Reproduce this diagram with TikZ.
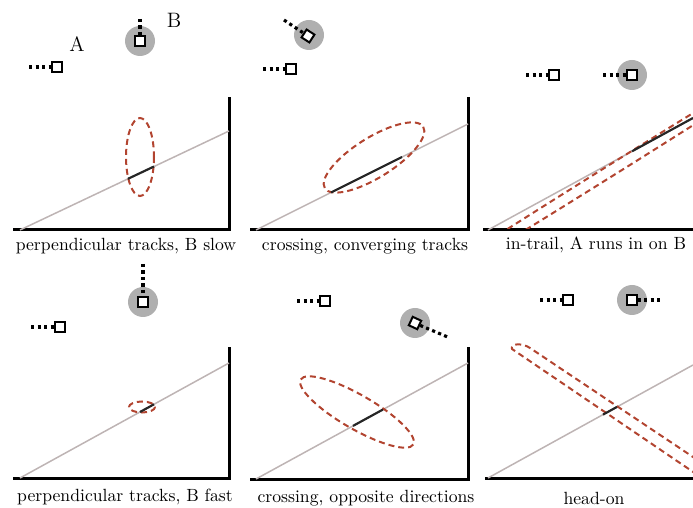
\documentclass[tikz,border=0pt]{standalone}
\usepackage{tikz}
\usetikzlibrary{positioning,calc}
\definecolor{trackgray}{RGB}{190,180,180}
\definecolor{zonered}{RGB}{178,68,48}
\definecolor{halogray}{RGB}{175,175,175}

\begin{document}
\begin{tikzpicture}[
  x=0.6pt, y=-0.6pt,
  axis/.style={draw, line width=1.8pt},
  track/.style={draw=trackgray, line width=0.9pt},
  conflict/.style={draw=black!85, line width=1.3pt},
  zone/.style={draw=zonered, line width=1.2pt, dash pattern=on 3.6pt off 2.4pt},
  plane/.style={draw, rectangle, line width=1.2pt, minimum size=5.6pt, inner sep=0pt, fill=white},
  halo/.style={circle, fill=halogray, minimum size=18pt, inner sep=0pt},
  trail/.style={draw, line width=1.9pt, dash pattern=on 1.9pt off 2pt},
  captext/.style={font=\fontsize{10.6}{12}\selectfont, inner sep=0pt},
  tag/.style={font=\fontsize{12.5}{14}\selectfont, inner sep=0pt},
]
\useasboundingbox (0,0) rectangle (693,508);

% perpendicular tracks, B slow
\node[halo] (h1) at (140,41) {};
\node[plane] (a1) at (57,67) {};
\node[plane] (b1) at (140,41) {};
\coordinate (a1t) at (29,67);
\coordinate (b1t) at (140,19);
\draw[trail] (a1t) -- (a1.west);
\draw[trail] (b1t) -- (b1.north);
\node[tag] (la) at (77,44) {A};
\node[tag] (lb) at (174,20) {B};
\draw[axis] (13,230) -- (229,230) -- (229,97);
\draw[track] (20,230) -- (229,131);
\draw[zone] (140,157) ellipse [x radius=14, y radius=39];
\draw[conflict] (128,178.8) -- (154,166.5);
\node[captext] (c1) at (126,246) {perpendicular tracks, B slow};

% crossing, converging tracks
\node[halo] (h2) at (309,35) {};
\node[plane] (a2) at (291,69) {};
\node[plane, rotate=-33] (b2) at (308,36) {};
\coordinate (a2t) at (263,69);
\coordinate (b2t) at (284,20);
\draw[trail] (a2t) -- (a2.west);
\draw[trail] (b2t) -- (b2.west);
\draw[axis] (250,230) -- (468,230) -- (468,97);
\draw[track] (256,230) -- (468,124);
\draw[zone, rotate around={32:(374,157.5)}] (374,157.5) ellipse [x radius=58, y radius=20];
\draw[conflict] (331,192.5) -- (402,157);
\node[captext] (c2) at (365,246) {crossing, converging tracks};

% in-trail, A runs in on B
\node[halo] (h3) at (632,75) {};
\node[plane] (a3) at (554,75) {};
\node[plane] (b3) at (632,75) {};
\coordinate (a3t) at (526,75);
\coordinate (b3t) at (603,75);
\draw[trail] (a3t) -- (a3.west);
\draw[trail] (b3t) -- (b3.west);
\draw[axis] (483,230) -- (693,230);
\draw[track] (488,230) -- (693,118);
\begin{scope}
  \clip (470,90) rectangle (693,229);
  \draw[zone, rotate around={32:(604,174.75)}] (604,174.75) ellipse [x radius=300, y radius=5.5];
\end{scope}
\draw[conflict] (632,151.3) -- (693,118);
\node[captext] (c3) at (596,245) {in-trail, A runs in on B};

% perpendicular tracks, B fast
\node[halo] (h4) at (143,302) {};
\node[plane] (a4) at (60,327) {};
\node[plane] (b4) at (143,302) {};
\coordinate (a4t) at (31,327);
\coordinate (b4t) at (143,264);
\draw[trail] (a4t) -- (a4.west);
\draw[trail] (b4t) -- (b4.north);
\draw[axis] (13,478) -- (229,478) -- (229,347);
\draw[track] (20,478) -- (229,363);
\draw[zone] (142,407) ellipse [x radius=13, y radius=5.5];
\draw[conflict] (140,412) -- (154,404.3);
\node[captext] (c4) at (125,497) {perpendicular tracks, B fast};

% crossing, opposite directions
\node[halo] (h5) at (415,323) {};
\node[plane] (a5) at (325,301) {};
\node[plane, rotate=-25] (b5) at (415,323) {};
\coordinate (a5t) at (297,301);
\coordinate (b5t) at (450,338);
\draw[trail] (a5t) -- (a5.west);
\draw[trail] (b5.east) -- (b5t);
\draw[axis] (250,479) -- (468,479) -- (468,347);
\draw[track] (256,479) -- (468,363);
\draw[zone, rotate around={-30:(357,412)}] (357,412) ellipse [x radius=65, y radius=17];
\draw[conflict] (353,425.9) -- (383,409.5);
\node[captext] (c5) at (366,498) {crossing, opposite directions};

% head-on
\node[halo] (h6) at (632,300) {};
\node[plane] (a6) at (568,300) {};
\node[plane] (b6) at (632,300) {};
\coordinate (a6t) at (540,300);
\coordinate (b6t) at (661,300);
\draw[trail] (a6t) -- (a6.west);
\draw[trail] (b6.east) -- (b6t);
\draw[axis] (485,478) -- (693,478);
\draw[track] (488,478) -- (693,365);
\begin{scope}
  \clip (470,330) rectangle (693,477);
  \draw[zone] (705,465) -- (530,348) .. controls (523,343) and (510,343) .. (512,349) -- (705,480);
\end{scope}
\draw[conflict] (603,414.6) -- (617,406.9);
\node[captext] (c6) at (594,498) {head-on};
\end{tikzpicture}
\end{document}
